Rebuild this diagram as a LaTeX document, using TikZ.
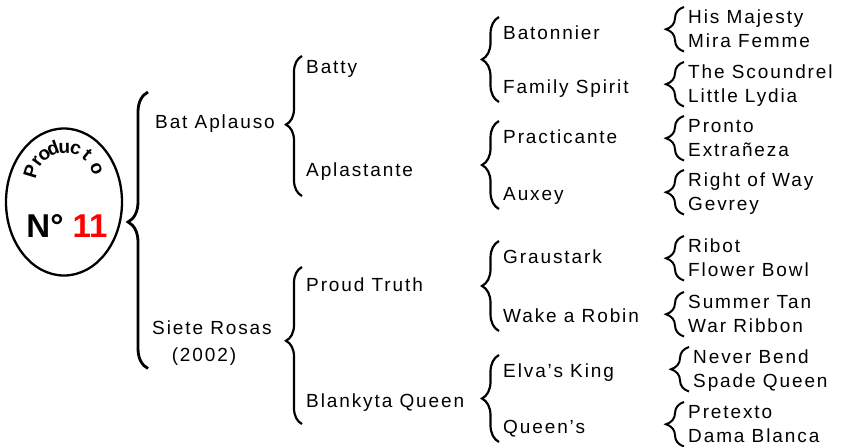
\documentclass[tikz,border=0pt]{standalone}
\usepackage{fontspec}
\setmainfont{Liberation Sans}[LetterSpace=10]
\newfontfamily\titlefont{Liberation Sans}
\newcommand\arcfont{\titlefont\bfseries\fontsize{19}{20}\selectfont}
\usetikzlibrary{positioning, calc, shapes.geometric, decorations.pathreplacing}

\begin{document}
\begin{tikzpicture}[x=1pt, y=-1pt,
		txt/.style={font=\fontsize{19}{22}\selectfont, inner sep=0pt, text height=13.6pt, text depth=0pt, anchor=west},
		curly/.style={decorate, decoration={brace, amplitude=#1}, line width=2.2pt}]
		\useasboundingbox (0,0) rectangle (846,447);
		\node[draw, ellipse, line width=2.3pt, minimum width=116pt, minimum height=147pt] (prod) at (64,202) {};
		\coordinate (arc) at (65,182);
		\foreach \l/\a [count=\i] in {P/163, r/144, o/127, d/110, u/91, c/72, t/51, o/23}
			\node[font=\arcfont, inner sep=0pt, anchor=base, rotate=\a-90] (p\i) at ($(arc)+(\a:29pt)$) {\l};
		\node[font=\titlefont\bfseries\fontsize{33}{33}\selectfont, inner sep=0pt, text height=23.6pt, text depth=0pt] (num) at (67,226) {N° \textcolor{red}{11}};
		\node[txt] (bataplauso) at (155,122) {Bat Aplauso};
		\node[txt] (siete) at (152,328) {Siete Rosas};
		\node[txt, below=12.5pt of siete, xshift=-8pt] (anio) {(2002)};
		\node[txt] (batty) at (306,67) {Batty};
		\node[txt] (aplastante) at (306,170) {Aplastante};
		\node[txt] (proud) at (306,285) {Proud Truth};
		\node[txt] (blankyta) at (306,401) {Blankyta Queen};
		\node[txt] (batonnier) at (503,33) {Batonnier};
		\node[txt] (family) at (503,87) {Family Spirit};
		\node[txt] (practicante) at (503,137) {Practicante};
		\node[txt] (auxey) at (503,194) {Auxey};
		\node[txt] (graustark) at (503,257) {Graustark};
		\node[txt] (wake) at (503,316) {Wake a Robin};
		\node[txt] (elva) at (503,371) {Elva’s King};
		\node[txt] (queens) at (503,427) {Queen’s};
		\node[txt] (his) at (688,17) {His Majesty};
		\node[txt, below=23.5pt of his.west, anchor=west] (mira) {Mira Femme};
		\node[txt] (scoundrel) at (688,72) {The Scoundrel};
		\node[txt, below=23.5pt of scoundrel.west, anchor=west] (lydia) {Little Lydia};
		\node[txt] (pronto) at (688,126) {Pronto};
		\node[txt, below=23.5pt of pronto.west, anchor=west] (extraneza) {Extrañeza};
		\node[txt] (right) at (688,180) {Right of Way};
		\node[txt, below=23.5pt of right.west, anchor=west] (gevrey) {Gevrey};
		\node[txt] (ribot) at (688,246) {Ribot};
		\node[txt, below=23.5pt of ribot.west, anchor=west] (flower) {Flower Bowl};
		\node[txt] (summer) at (688,302) {Summer Tan};
		\node[txt, below=23.5pt of summer.west, anchor=west] (ribbon) {War Ribbon};
		\node[txt] (never) at (693,357) {Never Bend};
		\node[txt, below=23.5pt of never.west, anchor=west] (spade) {Spade Queen};
		\node[txt] (pretexto) at (688,412) {Pretexto};
		\node[txt, below=23.5pt of pretexto.west, anchor=west] (dama) {Dama Blanca};
		\draw[curly=20pt, line width=2.8pt, decoration={aspect=0.53}] ($(bataplauso.west |- anio.south)+(-7pt,-7pt)$) -- ($(bataplauso.north west)+(-7pt,23pt)$);
		\draw[curly=16pt, decoration={aspect=0.51}] ($(aplastante.south west)+(-4pt,-19pt)$) -- ($(batty.north west)+(-4pt,4pt)$);
		\draw[curly=16pt, decoration={aspect=0.53}] ($(blankyta.south west)+(-4pt,-16pt)$) -- ($(proud.north west)+(-4pt,11pt)$);
		\draw[curly=17pt] ($(family.south west)+(-4pt,-8pt)$) -- ($(batonnier.north west)+(-4pt,9pt)$);
		\draw[curly=17pt] ($(auxey.south west)+(-4pt,-8pt)$) -- ($(practicante.north west)+(-4pt,9pt)$);
		\draw[curly=17pt] ($(wake.south west)+(-4pt,-8pt)$) -- ($(graustark.north west)+(-4pt,9pt)$);
		\draw[curly=17pt] ($(queens.south west)+(-4pt,-8pt)$) -- ($(elva.north west)+(-4pt,9pt)$);
		\draw[curly=18pt, line width=2pt] ($(mira.south west)+(-4pt,-4pt)$) -- ($(his.north west)+(-4pt,3pt)$);
		\draw[curly=18pt, line width=2pt] ($(lydia.south west)+(-4pt,-4pt)$) -- ($(scoundrel.north west)+(-4pt,3pt)$);
		\draw[curly=18pt, line width=2pt] ($(extraneza.south west)+(-4pt,-4pt)$) -- ($(pronto.north west)+(-4pt,3pt)$);
		\draw[curly=18pt, line width=2pt] ($(gevrey.south west)+(-4pt,-4pt)$) -- ($(right.north west)+(-4pt,3pt)$);
		\draw[curly=18pt, line width=2pt] ($(flower.south west)+(-4pt,-4pt)$) -- ($(ribot.north west)+(-4pt,3pt)$);
		\draw[curly=18pt, line width=2pt] ($(ribbon.south west)+(-4pt,-4pt)$) -- ($(summer.north west)+(-4pt,3pt)$);
		\draw[curly=18pt, line width=2pt] ($(spade.south west)+(-4pt,-4pt)$) -- ($(never.north west)+(-4pt,3pt)$);
		\draw[curly=18pt, line width=2pt] ($(dama.south west)+(-4pt,-4pt)$) -- ($(pretexto.north west)+(-4pt,3pt)$);
	\end{tikzpicture}
\end{document}
